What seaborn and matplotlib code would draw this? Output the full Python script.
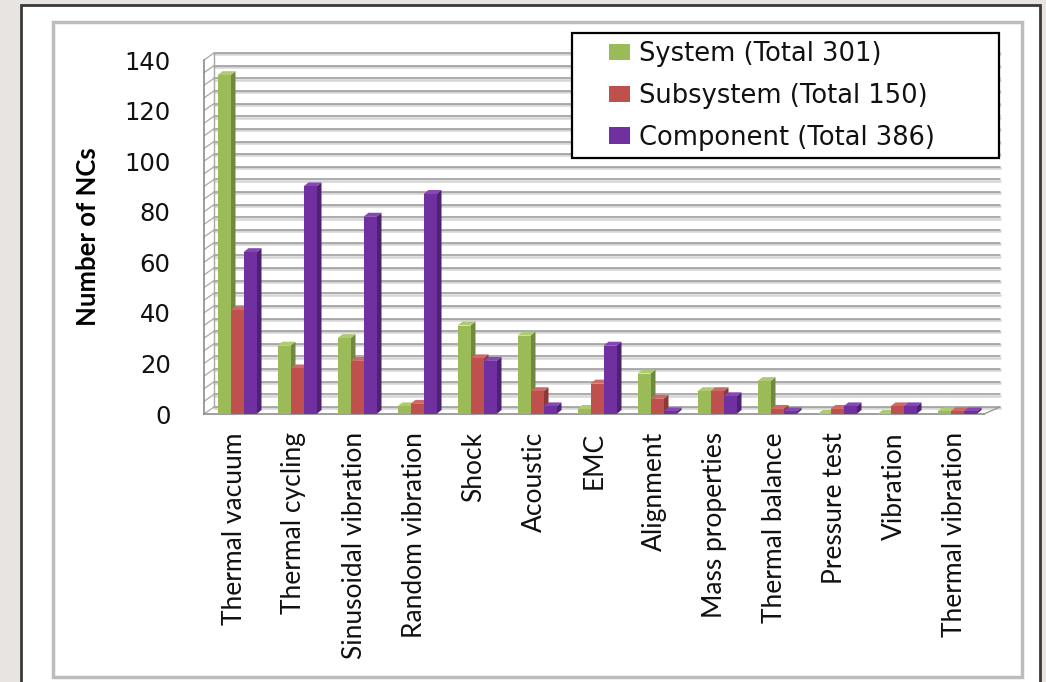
import matplotlib
matplotlib.use("Agg")
import matplotlib.pyplot as plt
from matplotlib.patches import Polygon, Rectangle
from matplotlib.lines import Line2D
import seaborn as sns
import pandas as pd

# Non-conformities found per environmental test, split by assembly level
categories = ["Thermal vacuum", "Thermal cycling", "Sinusoidal vibration", "Random vibration",
              "Shock", "Acoustic", "EMC", "Alignment", "Mass properties", "Thermal balance",
              "Pressure test", "Vibration", "Thermal vibration"]
system = [134, 27, 30, 3, 35, 31, 2, 16, 9, 13, 0, 0, 1]
subsystem = [41, 18, 21, 4, 22, 9, 12, 6, 9, 2, 2, 3, 1]
component = [64, 90, 78, 87, 21, 3, 27, 1, 7, 1, 3, 3, 1]
level_names = ["System", "Subsystem", "Component"]
y_ticks = [0, 20, 40, 60, 80, 100, 120, 140]

front_colors = ["#9bbb59", "#c0504d", "#7030a0"]
side_colors = ["#71893f", "#8c3836", "#4e2272"]
top_colors = ["#aecb72", "#cc6a67", "#8447b3"]

series = [system, subsystem, component]
labels = [f"{n} (Total {sum(v)})" for n, v in zip(level_names, series)]
rows = []
for lab, vals in zip(labels, series):
    for cat, v in zip(categories, vals):
        rows.append({"Test": cat, "Level": lab, "NCs": v})
df = pd.DataFrame(rows)

sns.set_style("white")
plt.rcParams["font.family"] = ["DejaVu Sans"]

W, H = 1046, 682


def fx(px):
    return px / W


def fy(py):
    return 1 - py / H


fig = plt.figure(figsize=(W / 100, H / 100), dpi=100, facecolor="#e8e4e1")

# outer panel and chart-area frame
fig.patches.append(Rectangle((fx(21), fy(700)), fx(1040) - fx(21), fy(5) - fy(700),
                             transform=fig.transFigure, fc="white", ec="#3a3a3a", lw=2, zorder=-2))
fig.patches.append(Rectangle((fx(53), fy(677)), fx(1022) - fx(53), fy(22) - fy(677),
                             transform=fig.transFigure, fc="white", ec="#bdbdbd", lw=2.5, zorder=-1))

ax_left, ax_right, ax_bottom, ax_top = 204, 984, 414, 60
ax = fig.add_axes([fx(ax_left), fy(ax_bottom), fx(ax_right) - fx(ax_left), fy(ax_top) - fy(ax_bottom)])
ax.set_facecolor("none")
ax.set_zorder(1)

sns.barplot(data=df, x="Test", y="NCs", hue="Level", hue_order=labels, order=categories,
            palette=front_colors, width=0.65, saturation=1, dodge=True, legend=False,
            ax=ax, zorder=3, edgecolor="none", linewidth=0)

ax.set_xlim(-0.5, len(categories) - 0.5)
ax.set_ylim(0, 140)

# data units per pixel
xpp = len(categories) / (ax_right - ax_left)
ypp = 140 / (ax_bottom - ax_top)

# back wall with gridlines, left side wall and floor
wall_dx, wall_dy = 10 * xpp, 7 * ypp
x_back_left = -0.5 + wall_dx
x_back_right = len(categories) - 0.5 + 16 * xpp
for v in range(0, 141, 5):
    ax.add_line(Line2D([x_back_left, x_back_right], [v + wall_dy - 1.3 * ypp] * 2,
                       color="#d6d6d6", lw=1.8, zorder=1, clip_on=False))
    ax.add_line(Line2D([x_back_left, x_back_right], [v + wall_dy] * 2,
                       color="#969696", lw=1.1, zorder=1.1, clip_on=False))
    ax.add_line(Line2D([-0.5, x_back_left], [v, v + wall_dy],
                       color="#a8a8a8", lw=0.9, zorder=1.1, clip_on=False))
ax.add_line(Line2D([x_back_left, x_back_left], [wall_dy, 140 + wall_dy],
                   color="#a8a8a8", lw=1.0, zorder=1.1, clip_on=False))
ax.add_line(Line2D([len(categories) - 0.5, x_back_right], [0, wall_dy],
                   color="#9a9a9a", lw=1.0, zorder=1.1, clip_on=False))

# bars with shaded side and top faces
shift = 3 * xpp
dx, dy = 5 * xpp, 4 * ypp
for i, cont in enumerate(ax.containers):
    for bar in cont:
        bar.set_x(bar.get_x() + shift)
        x0, w, h = bar.get_x(), bar.get_width(), bar.get_height()
        ax.add_patch(Polygon([(x0 + w, 0), (x0 + w + dx, dy), (x0 + w + dx, h + dy), (x0 + w, h)],
                             closed=True, fc=side_colors[i], ec="none", zorder=2.6))
        ax.add_patch(Polygon([(x0, h), (x0 + dx, h + dy), (x0 + w + dx, h + dy), (x0 + w, h)],
                             closed=True, fc=top_colors[i], ec="none", zorder=2.7))

ax.set_xlim(-0.5, len(categories) - 0.5)
ax.set_ylim(0, 140)

for s in ["top", "right"]:
    ax.spines[s].set_visible(False)
for s in ["left", "bottom"]:
    ax.spines[s].set_color("#8c8c8c")
    ax.spines[s].set_linewidth(1.2)

ax.set_yticks(y_ticks)
ax.tick_params(axis="y", length=7, width=1, color="#8c8c8c", pad=17,
               labelsize=17.5, labelcolor="#111111")
ax.set_xticks(range(len(categories)))
ax.set_xticklabels(categories, rotation=90, family="Lato", fontsize=19, color="#111111")
ax.set_xticks([i - 0.5 for i in range(len(categories) + 1)], minor=True)
ax.tick_params(axis="x", which="major", length=0, pad=13)
ax.tick_params(axis="x", which="minor", length=7, width=1, color="#8c8c8c")
ax.set_xlabel("")

ax.set_ylabel("Number of NCs", fontsize=18.5, fontweight="bold", family="Lato", color="black")
ax.yaxis.set_label_coords((88 - ax_left) / (ax_right - ax_left), 0.5)
ax.yaxis.label.set_va("center")

# legend inside a framed white box
box = Rectangle((fx(572), fy(158)), fx(999) - fx(572), fy(33) - fy(158),
                transform=fig.transFigure, fc="white", ec="black", lw=1.6, zorder=5, clip_on=False)
ax.add_artist(box)
handles = [Rectangle((0, 0), 1, 1, fc=c, ec="none") for c in front_colors]
leg = ax.legend(handles, labels, loc="upper left", bbox_to_anchor=(fx(609), fy(41)),
                bbox_transform=fig.transFigure, frameon=False, fontsize=18.5,
                handlelength=0.8, handleheight=0.62, handletextpad=0.35, labelspacing=0.62,
                borderpad=0, borderaxespad=0)
for t in leg.get_texts():
    t.set_color("#111111")
leg.set_zorder(6)

fig.savefig("out.png", dpi=100, facecolor=fig.get_facecolor())
